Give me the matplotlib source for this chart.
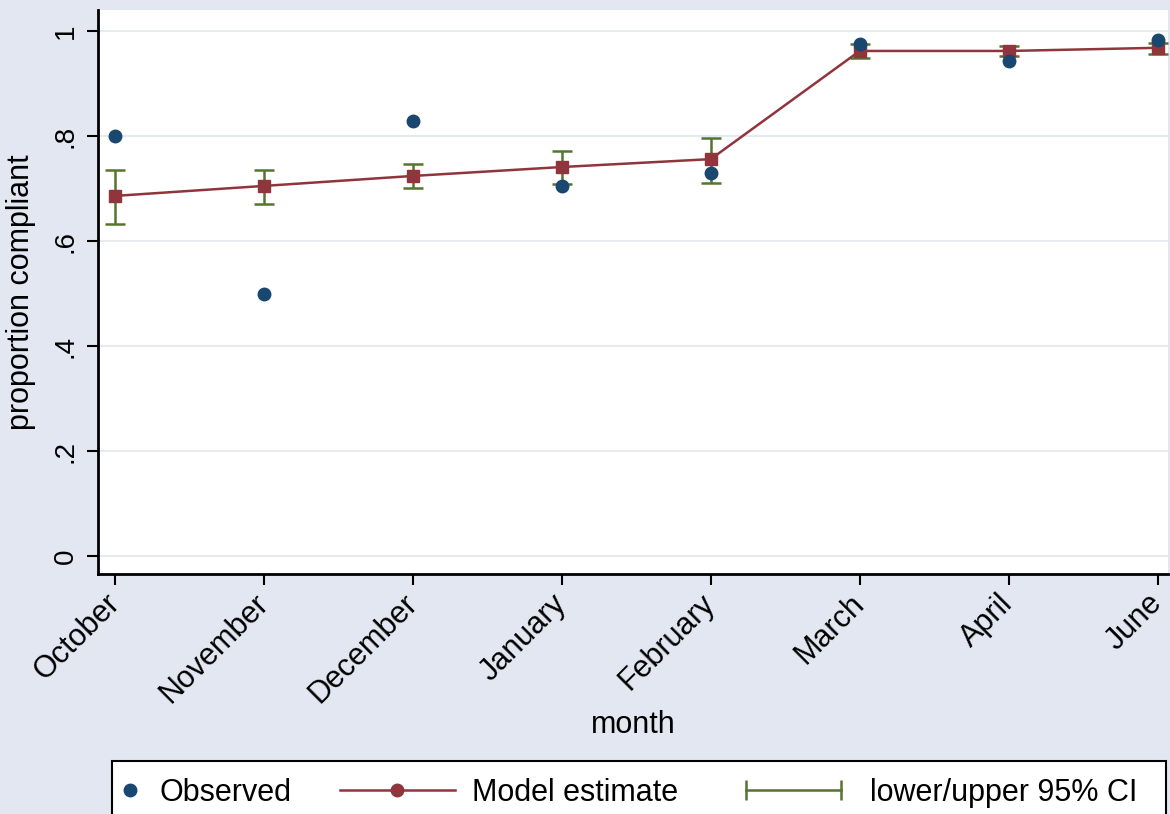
import matplotlib.pyplot as plt
from matplotlib.legend_handler import HandlerLine2D
from matplotlib.lines import Line2D
from matplotlib.patches import Rectangle

plt.rcParams['font.family'] = ['Liberation Sans', 'DejaVu Sans']

# months on the x axis
months = ['October', 'November', 'December', 'January', 'February', 'March', 'April', 'June']

# observed proportions
observed = [0.800, 0.499, 0.829, 0.705, 0.730, 0.975, 0.943, 0.983]

# model estimates and 95% CI
estimate = [0.686, 0.705, 0.724, 0.741, 0.756, 0.962, 0.962, 0.968]
ci_lower = [0.632, 0.670, 0.701, 0.709, 0.710, 0.949, 0.952, 0.956]
ci_upper = [0.735, 0.735, 0.747, 0.771, 0.796, 0.975, 0.971, 0.977]

navy = '#1a476f'
maroon = '#90353b'
green = '#55752f'
bg = '#e2e7f1'

W, H = 1170, 814
x = list(range(len(months)))

fig = plt.figure(figsize=(W / 100, H / 100), dpi=100, facecolor=bg)
ax = fig.add_axes([98 / W, 1 - 574 / H, 1070 / W, 564 / H])
ax.set_facecolor('white')

# gridlines
for t in [0, 0.2, 0.4, 0.6, 0.8, 1.0]:
    ax.axhline(t, color='#e6e9ee', lw=1.5, zorder=0)

# confidence interval bars
yerr = [[e - l for e, l in zip(estimate, ci_lower)],
        [u - e for e, u in zip(estimate, ci_upper)]]
ax.errorbar(x, estimate, yerr=yerr, fmt='none', ecolor=green, elinewidth=1.8,
            capsize=7, capthick=1.8, zorder=2)

# model estimate line
ax.plot(x, estimate, color=maroon, lw=1.8, marker='s', markersize=9, zorder=3)

# observed points
ax.plot(x, observed, linestyle='none', marker='o', color=navy, markersize=9, zorder=4)

ax.set_xlim(-0.114, 7.07)
ax.set_ylim(-0.034, 1.04)

ax.set_yticks([0, 0.2, 0.4, 0.6, 0.8, 1.0])
ax.set_yticklabels(['0', '.2', '.4', '.6', '.8', '1'], rotation=90, va='center', fontsize=20)
ax.set_xticks(x)
ax.set_xticklabels(months, rotation=45, ha='right', va='center', rotation_mode='anchor',
                   fontsize=22)
ax.tick_params(axis='both', direction='out', length=8, width=1.5, color='black', pad=6)
ax.tick_params(axis='x', pad=10)

for side in ['top', 'right']:
    ax.spines[side].set_visible(False)
for side in ['left', 'bottom']:
    ax.spines[side].set_linewidth(2)
    ax.spines[side].set_color('black')

ax.set_xlabel('month', fontsize=22, labelpad=1)
ax.set_ylabel('proportion compliant', fontsize=22, labelpad=12)

# legend box (cut off by the bottom edge, as in the original)
fig.patches.append(Rectangle((112 / W, -0.05), 1054 / W, (H - 761) / H + 0.05,
                             transform=fig.transFigure, facecolor='white',
                             edgecolor='black', linewidth=1.5, zorder=5))

h_obs = Line2D([], [], linestyle='none', marker='o', color=navy, markersize=9)
h_est = Line2D([], [], color=maroon, lw=1.8, marker='o', markersize=9)
h_ci = Line2D([], [], color=green, lw=1.8, marker='|', markersize=14, markeredgewidth=1.8)

leg_y = 1 - 793 / H
entries = [
    (h_obs, 'Observed', 115, 0.98, 0.48),
    (h_est, 'Model estimate', 340, 3.76, 0.55),
    (h_ci, 'lower/upper 95% CI', 737, 3.7, 0.65),
]
for handle, label, x0, hl, pad in entries:
    leg = fig.legend([handle], [label], loc='center left',
                     bbox_to_anchor=(x0 / W, leg_y), frameon=False, fontsize=22,
                     borderpad=0, borderaxespad=0, handlelength=hl, handletextpad=pad,
                     handler_map={h_ci: HandlerLine2D(numpoints=2)})
    leg.set_zorder(6)

fig.savefig('out.png', dpi=100, facecolor=bg)
